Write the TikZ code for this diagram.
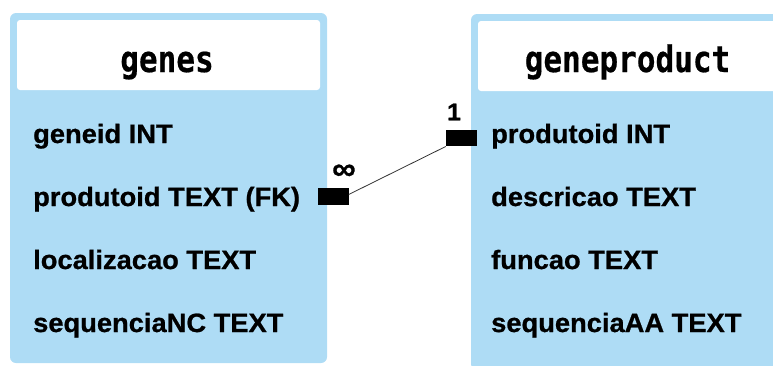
\documentclass[tikz,border=0pt]{standalone}
\usepackage{fontspec}
\setmainfont{Liberation Sans}
\newfontfamily\hdrfont[FakeStretch=0.85,BoldFeatures={FakeBold=0.5}]{DejaVu Sans Mono}
\newfontfamily\fieldfont[FakeStretch=1.03,BoldFeatures={FakeBold=0.8}]{Liberation Sans}
\definecolor{tblblue}{RGB}{174,220,245}
\tikzset{
  outerbox/.style={fill=tblblue, rounded corners=6pt},
  hdrbox/.style={fill=white, rounded corners=3pt},
  hdrtext/.style={font=\hdrfont\bfseries\fontsize{36.5}{40}\selectfont, inner sep=0pt, anchor=base},
  field/.style={font=\fieldfont\bfseries\fontsize{26.5}{30}\selectfont, anchor=base west, inner sep=0pt},
  card/.style={fill=black, minimum width=31pt, minimum height=16.5pt, inner sep=0pt},
  cardlabel/.style={font=\fieldfont\bfseries\fontsize{24}{28}\selectfont, inner sep=0pt},
  inflabel/.style={font=\fieldfont\bfseries\fontsize{32}{34}\selectfont, inner sep=0pt},
  rel/.style={draw=black!80, line width=0.8pt}
}
\begin{document}
\begin{tikzpicture}[x=1pt,y=-1pt]
\useasboundingbox (0,0) rectangle (773,365);
% left table
\path[outerbox] (10,13) rectangle (327,363);
\path[hdrbox] (17,20) rectangle (320,90);
\node[hdrtext] (t1) at (167,72) {genes};
\node[field] (f11) at (33,143) {geneid INT};
\node[field] (f12) at (33,206) {produtoid TEXT (FK)};
\node[field] (f13) at (33,269) {localizacao TEXT};
\node[field] (f14) at (33,332) {sequenciaNC TEXT};
% right table
\path[outerbox] (471,14) rectangle (788,370);
\path[hdrbox] (478,21) rectangle (781,91);
\node[hdrtext] (t2) at (627.5,72) {geneproduct};
\node[field] (f21) at (491,143) {produtoid INT};
\node[field] (f22) at (491,206) {descricao TEXT};
\node[field] (f23) at (491,269) {funcao TEXT};
\node[field] (f24) at (491,332) {sequenciaAA TEXT};
% relation
\node[card] (c1) at (333,196.5) {};
\node[card] (c2) at (461.5,138) {};
\draw[rel] ([yshift=2pt]c1.east) -- ([yshift=0pt]c2.south west);
\node[inflabel] (l1) at (344,172) {∞};
\node[cardlabel] (l2) at (454,112) {1};
\end{tikzpicture}
\end{document}
